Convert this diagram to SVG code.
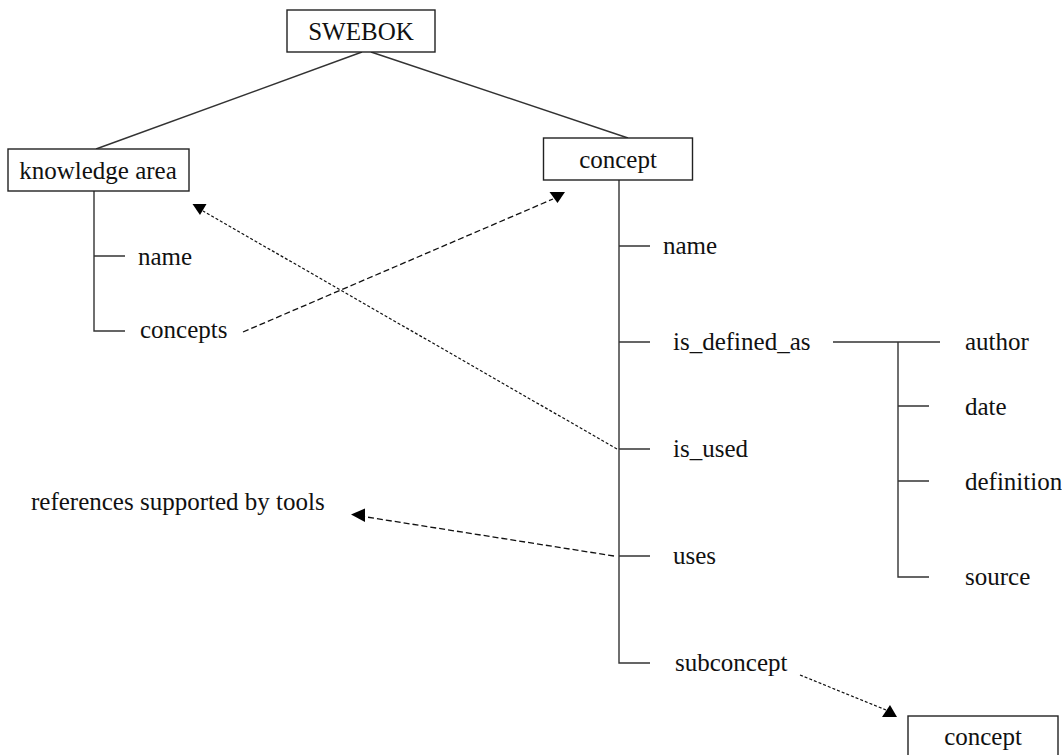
<svg xmlns="http://www.w3.org/2000/svg" width="1062" height="755" viewBox="0 0 1062 755">
<style>
.box{fill:#fff;stroke:#222;stroke-width:1.4}
.t{font-family:"Liberation Serif","Times New Roman",serif;font-size:25px;fill:#111}
.tree{stroke:#333;stroke-width:1.4;fill:none}
.dash{stroke:#111;stroke-width:1.3;fill:none;stroke-dasharray:6,3}
.dot{stroke:#111;stroke-width:1.2;fill:none;stroke-dasharray:3,2}
.head{fill:#000}
</style>
<rect width="1062" height="755" fill="#fff"/>
<g id="connectors">
  <line class="tree" x1="362" y1="52" x2="96" y2="149"/>
  <line class="tree" x1="371" y1="52" x2="628" y2="138"/>
  <path class="tree" d="M94 191 V331 H125 M94 256 H125"/>
  <path class="tree" d="M619 180 V663 H650 M619 246 H650 M619 342 H650 M619 449 H650 M619 556 H650"/>
  <path class="tree" d="M833 342 H940 M898 342 V577 H929 M898 406 H929 M898 481 H929"/>
  <line class="dash" x1="243" y1="332" x2="553" y2="199"/>
  <polygon class="head" points="549.5,192 565,192 557.5,203"/>
  <line class="dot" x1="617" y1="449" x2="203" y2="211"/>
  <polygon class="head" points="192.5,204 206.5,204 200,215"/>
  <line class="dash" x1="614" y1="556" x2="360" y2="516"/>
  <polygon class="head" points="351,514.5 365,508.5 365,522"/>
  <line class="dot" x1="800" y1="675" x2="886" y2="710"/>
  <polygon class="head" points="890,705 882,717 897,717"/>
</g>
<g id="swebok">
  <rect class="box" x="287" y="10" width="148" height="42"/>
  <text class="t" x="361" y="40" text-anchor="middle">SWEBOK</text>
</g>
<g id="knowledge-area">
  <rect class="box" x="8" y="149" width="181" height="42"/>
  <text class="t" x="98" y="179" text-anchor="middle">knowledge area</text>
</g>
<g id="ka-name"><text class="t" x="138" y="265">name</text></g>
<g id="ka-concepts"><text class="t" x="140" y="338">concepts</text></g>
<g id="concept">
  <rect class="box" x="543.5" y="138" width="149" height="42"/>
  <text class="t" x="618" y="168" text-anchor="middle">concept</text>
</g>
<g id="c-name"><text class="t" x="663" y="254">name</text></g>
<g id="c-is-defined-as"><text class="t" x="673" y="350">is_defined_as</text></g>
<g id="c-is-used"><text class="t" x="673" y="457">is_used</text></g>
<g id="c-uses"><text class="t" x="673" y="564">uses</text></g>
<g id="c-subconcept"><text class="t" x="675" y="671">subconcept</text></g>
<g id="author"><text class="t" x="965" y="350">author</text></g>
<g id="date"><text class="t" x="965" y="415">date</text></g>
<g id="definition"><text class="t" x="965" y="490">definition</text></g>
<g id="source"><text class="t" x="965" y="585">source</text></g>
<g id="references"><text class="t" x="31" y="510">references supported by tools</text></g>
<g id="subconcept-box">
  <rect class="box" x="908" y="716" width="150" height="42"/>
  <text class="t" x="983" y="745" text-anchor="middle">concept</text>
</g>
</svg>
